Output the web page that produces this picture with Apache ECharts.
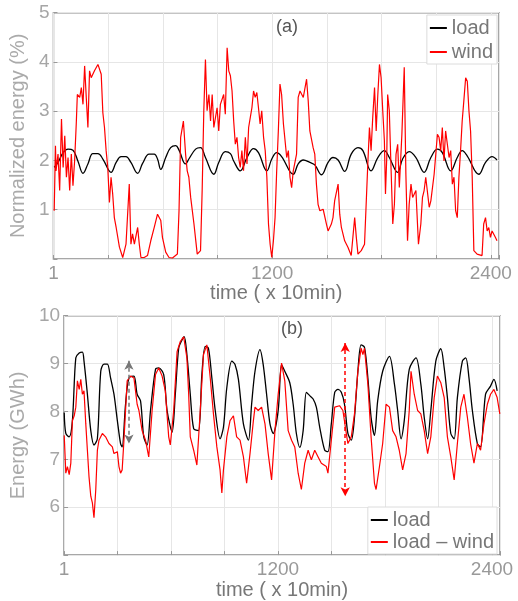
<!DOCTYPE html>
<html>
<head>
<meta charset="utf-8">
<script src="https://cdn.jsdelivr.net/npm/echarts/dist/echarts.min.js"></script>
<style>html,body{margin:0;padding:0;background:#fff;}#c{width:518px;height:601px;}</style>
</head>
<body>
<div id="c"></div>
<script>
// ---- data: [time step, value] ----
const xTickLabels = {0: '1', 1200: '1200', 2400: '2400'};
const loadA = [[4,1.86],[25,1.96],[53,2.16],[80,2.23],[107,2.21],[134,1.99],[162,1.74],[189,1.93],[216,2.14],[244,2.14],
[271,2.03],[316,1.76],[344,1.96],[371,2.08],[398,2.08],[425,1.96],[462,1.74],[489,1.94],[525,2.13],[553,2.13],
[571,2.03],[589,1.82],[616,2.06],[643,2.26],[671,2.30],[689,2.21],[725,1.93],[743,2.03],[780,2.23],[807,2.26],
[834,2.06],[880,1.72],[907,1.96],[943,2.18],[971,2.14],[989,1.99],[1025,1.79],[1062,2.06],[1098,2.24],[1125,2.16],
[1171,1.79],[1198,2.03],[1225,2.16],[1252,2.08],[1316,1.72],[1343,1.93],[1371,2.01],[1407,1.96],[1434,1.91],[1471,1.71],
[1507,1.96],[1534,2.06],[1562,2.01],[1598,1.78],[1634,2.13],[1671,2.26],[1698,2.20],[1743,1.79],[1780,2.06],[1816,2.20],
[1843,2.06],[1889,1.76],[1916,2.03],[1952,2.18],[1989,2.06],[2034,1.76],[2071,2.06],[2107,2.23],[2134,2.16],[2180,1.79],
[2216,2.06],[2243,2.20],[2271,2.09],[2334,1.72],[2371,1.96],[2407,2.08],[2434,2.01]];
const windA = [[4,0.98],[11,2.30],[14,1.79],[25,2.13],[34,1.39],[44,2.84],[53,1.86],[62,2.50],[71,1.66],[80,2.06],
[89,1.39],[98,2.13],[107,1.49],[116,1.99],[125,2.74],[131,3.34],[144,3.28],[153,3.48],[162,3.14],[171,3.92],
[180,3.28],[189,2.67],[198,3.82],[207,3.68],[225,3.82],[244,3.95],[253,3.99],[262,3.75],[271,2.97],[280,2.67],
[289,2.20],[298,1.86],[307,1.15],[316,1.66],[325,1.32],[334,0.84],[344,0.64],[362,0.24],[380,0.03],[398,0.30],
[416,1.52],[425,0.30],[434,0.51],[444,0.30],[462,0.64],[471,0.30],[480,0.03],[498,0.03],[516,0.07],[534,0.37],
[553,0.64],[571,0.91],[589,0.78],[598,0.44],[616,0.14],[634,0.03],[653,0.02],[680,0.10],[689,0.98],[698,2.47],
[713,2.80],[725,2.13],[734,1.79],[743,1.66],[753,1.25],[771,0.71],[789,0.10],[807,0.17],[816,1.39],[825,3.01],
[834,4.05],[843,3.01],[853,3.34],[862,2.80],[871,3.34],[880,2.67],[898,3.07],[907,2.60],[916,3.14],[934,3.34],
[943,2.94],[953,4.29],[962,3.82],[971,3.72],[980,3.41],[989,2.80],[998,2.33],[1007,2.47],[1016,2.06],[1025,1.86],
[1034,2.20],[1043,1.79],[1053,2.47],[1062,1.93],[1071,2.67],[1080,2.87],[1089,3.07],[1098,3.41],[1107,3.28],[1116,3.38],
[1125,3.07],[1134,2.74],[1143,3.01],[1153,2.47],[1162,2.20],[1171,1.66],[1180,0.71],[1189,0.30],[1198,0.03],[1207,0.37],
[1216,0.84],[1225,1.79],[1234,2.60],[1243,3.55],[1252,3.34],[1262,2.74],[1271,2.40],[1280,2.06],[1289,2.20],[1298,1.66],
[1307,1.45],[1316,1.79],[1334,2.13],[1343,3.28],[1353,3.41],[1371,3.28],[1389,3.65],[1398,3.21],[1407,2.60],[1416,2.60],
[1425,2.26],[1434,2.13],[1443,1.52],[1452,1.11],[1462,0.98],[1480,1.01],[1498,0.71],[1507,0.57],[1525,0.71],[1534,0.84],
[1543,1.18],[1552,1.18],[1562,1.52],[1571,0.91],[1580,0.64],[1598,0.37],[1616,0.24],[1634,0.07],[1653,0.84],[1662,0.44],
[1671,0.10],[1689,0.17],[1707,0.30],[1725,1.93],[1734,2.67],[1743,2.20],[1752,2.87],[1762,3.48],[1771,2.60],[1780,3.34],
[1789,3.95],[1798,3.68],[1807,3.01],[1816,2.40],[1822,1.32],[1829,2.06],[1834,3.34],[1843,3.01],[1853,1.79],[1862,0.71],
[1871,1.11],[1880,2.13],[1889,2.33],[1898,1.45],[1912,2.53],[1925,3.89],[1934,1.72],[1943,0.37],[1952,1.11],[1962,1.52],
[1971,1.25],[1989,1.39],[2003,0.30],[2016,0.71],[2025,1.25],[2034,1.39],[2043,1.66],[2062,1.05],[2071,1.18],[2089,1.72],
[2107,2.53],[2116,2.47],[2125,2.20],[2134,2.67],[2143,1.99],[2152,2.60],[2171,2.06],[2180,2.20],[2189,1.52],[2198,1.66],
[2207,0.98],[2216,0.84],[2225,1.66],[2234,2.20],[2243,2.80],[2252,3.21],[2262,3.68],[2271,3.61],[2280,3.01],[2289,2.60],
[2298,1.66],[2307,0.17],[2325,0.10],[2352,0.07],[2361,0.71],[2371,0.84],[2380,0.57],[2389,0.64],[2398,0.44],[2407,0.57],
[2425,0.44],[2434,0.37]];
const loadB = [[1,7.98],[10,7.54],[29,7.47],[47,7.81],[66,9.12],[85,9.22],[103,9.24],[112,9.05],[131,8.36],[150,7.60],
[168,7.30],[187,7.43],[206,8.84],[224,8.99],[243,8.99],[261,8.70],[280,8.36],[299,7.81],[317,7.33],[326,7.26],
[345,8.15],[364,8.70],[392,8.74],[410,8.36],[429,8.22],[447,7.47],[466,7.30],[485,8.02],[513,8.88],[531,8.91],
[559,8.77],[578,8.02],[606,7.57],[624,8.36],[643,9.32],[661,9.49],[674,9.56],[689,9.19],[708,8.36],[727,7.64],
[754,7.60],[773,8.77],[792,9.36],[810,9.32],[829,8.70],[848,8.02],[875,7.43],[894,7.67],[913,8.50],[941,9.05],
[959,8.98],[978,8.67],[1006,7.74],[1034,7.40],[1052,8.15],[1071,8.84],[1099,9.29],[1117,8.98],[1136,8.36],[1155,7.74],
[1173,7.54],[1201,8.02],[1220,8.98],[1238,8.84],[1266,8.60],[1285,8.15],[1303,7.54],[1322,7.25],[1341,7.60],[1359,8.40],
[1378,8.33],[1397,8.26],[1415,8.09],[1434,7.67],[1462,7.19],[1480,7.16],[1499,7.74],[1518,8.40],[1536,8.46],[1555,8.40],
[1573,8.15],[1592,7.54],[1611,7.40],[1629,7.88],[1648,8.84],[1666,9.39],[1685,9.34],[1704,8.70],[1722,7.88],[1741,7.50],
[1759,8.22],[1787,8.84],[1825,9.15],[1853,8.57],[1871,8.02],[1890,7.43],[1908,7.81],[1936,8.88],[1974,9.12],[2001,8.57],
[2020,7.88],[2039,7.43],[2057,8.02],[2085,9.05],[2113,9.31],[2132,8.91],[2150,8.29],[2169,7.54],[2188,7.43],[2206,8.29],
[2234,9.05],[2253,9.12],[2271,8.70],[2290,8.02],[2318,7.33],[2336,7.26],[2364,8.36],[2392,8.53],[2411,8.67],[2429,8.43]];
const netB = [[1,7.50],[10,6.71],[19,6.85],[29,6.68],[38,6.92],[47,7.81],[57,7.91],[66,8.09],[75,8.64],[85,8.46],
[94,8.67],[103,8.36],[112,8.43],[122,7.74],[131,7.19],[140,6.64],[150,6.23],[159,6.09],[168,5.78],[178,6.37],
[187,7.19],[196,7.40],[215,7.54],[233,7.47],[252,7.33],[271,7.26],[280,7.12],[299,7.16],[308,6.85],[317,6.71],
[326,6.78],[336,7.40],[354,8.64],[373,8.74],[392,8.70],[410,8.15],[420,8.02],[438,7.60],[457,7.40],[475,7.05],
[494,8.02],[513,8.77],[531,8.91],[550,8.74],[568,8.43],[587,7.47],[596,7.30],[615,8.02],[634,9.25],[652,9.46],
[671,9.56],[689,9.12],[699,8.36],[708,7.47],[727,7.19],[745,6.88],[764,8.02],[782,9.19],[801,9.39],[820,8.70],
[838,7.95],[857,7.26],[875,6.78],[885,6.30],[894,6.78],[913,7.47],[931,7.81],[950,7.91],[968,7.47],[987,7.40],
[1006,7.05],[1024,6.50],[1043,7.12],[1062,7.81],[1071,8.09],[1089,8.02],[1108,8.09],[1127,7.74],[1145,7.12],[1164,6.57],
[1183,7.60],[1201,8.36],[1220,9.01],[1238,8.64],[1257,7.60],[1276,7.40],[1294,7.26],[1313,6.71],[1331,6.37],[1350,6.92],
[1369,7.19],[1387,6.99],[1406,7.19],[1425,7.05],[1443,6.92],[1471,6.85],[1480,6.71],[1499,7.40],[1518,8.09],[1545,8.12],
[1564,8.02],[1583,7.54],[1592,7.33],[1611,7.47],[1629,7.95],[1648,8.84],[1666,9.32],[1676,9.19],[1685,9.32],[1704,8.57],
[1722,7.47],[1741,6.50],[1750,6.37],[1769,6.85],[1787,7.33],[1806,8.15],[1825,8.09],[1843,7.60],[1862,7.47],[1880,7.19],
[1899,6.78],[1918,7.12],[1936,8.02],[1946,8.84],[1964,8.36],[1983,8.02],[2001,7.95],[2020,7.60],[2039,7.12],[2057,7.47],
[2076,8.29],[2094,8.74],[2113,8.60],[2132,8.29],[2150,7.47],[2169,7.05],[2188,6.57],[2206,7.33],[2225,8.09],[2243,8.36],
[2262,7.88],[2280,7.33],[2299,6.92],[2318,7.33],[2336,7.19],[2355,7.74],[2374,8.15],[2392,8.36],[2411,8.46],[2429,8.29],[2444,7.95]];
// arrows: [time, top, bottom]
const grayArrow = [364, 9.06, 7.33];
const redArrow = [1577, 9.43, 6.23];

// ---- chart ----
const FONT = 'Liberation Sans';
const chart = echarts.init(document.getElementById('c'), null, {renderer: 'canvas'});
function xAxisCfg(gridIndex, gap) {
  return {
    type: 'value', gridIndex, min: 0, max: 2445, interval: 300,
    name: 'time ( x 10min)', nameLocation: 'middle', nameGap: gap,
    nameTextStyle: {color: '#777', fontSize: 20, fontFamily: FONT},
    axisLine: {show: false},
    axisTick: {show: true, inside: true, length: 4, lineStyle: {color: '#999'}},
    axisLabel: {color: '#999', fontSize: 19, fontFamily: FONT, margin: 5,
      showMaxLabel: true, showMinLabel: true,
      formatter: v => (xTickLabels[v] !== undefined ? xTickLabels[v] : '')},
    splitLine: {show: true, lineStyle: {color: '#e6e6e6', width: 1}}
  };
}
function yAxisCfg(gridIndex, min, max, name, gap) {
  return {
    type: 'value', gridIndex, min, max, interval: 1,
    name, nameLocation: 'middle', nameGap: gap,
    nameTextStyle: {color: '#aaa', fontSize: 20, fontFamily: FONT},
    axisLine: {show: false},
    axisTick: {show: true, inside: true, length: 4, lineStyle: {color: '#999'}},
    axisLabel: {color: '#a6a6a6', fontSize: 19, fontFamily: FONT, margin: 4,
      formatter: v => (v === min ? '' : String(v))},
    splitLine: {show: true, lineStyle: {color: '#e6e6e6', width: 1}}
  };
}
function arrowLine(a, color) {
  return {
    silent: true, symbol: ['arrow', 'arrow'], symbolSize: [7, 9],
    label: {show: false},
    lineStyle: {color, type: [4, 3], width: 1.5},
    data: [[{coord: [a[0], a[1]]}, {coord: [a[0], a[2]]}]]
  };
}
const option = {
  animation: false,
  backgroundColor: '#fff',
  textStyle: {fontFamily: FONT},
  grid: [
    {left: 52, top: 12.7, width: 447, height: 246.3, show: true, borderColor: '#8a8a8a', borderWidth: 1.5, backgroundColor: 'transparent'},
    {left: 61.7, top: 315.7, width: 438.3, height: 242, show: true, borderColor: '#8a8a8a', borderWidth: 1.5, backgroundColor: 'transparent'}
  ],
  xAxis: [xAxisCfg(0, 22), xAxisCfg(1, 19)],
  yAxis: [yAxisCfg(0, 0, 5, 'Normalized energy (%)', 17), yAxisCfg(1, 5, 10, 'Energy (GWh)', 27)],
  legend: [
    {data: ['load', 'wind'], orient: 'vertical', right: 21, top: 15, itemWidth: 17, itemHeight: 2, itemGap: 4,
     padding: [3, 4, 2, 3], icon: 'rect', backgroundColor: '#fff', borderColor: '#dcdcdc', borderWidth: 1,
     textStyle: {color: '#777', fontSize: 20, fontFamily: FONT}},
    {data: ['load ', 'load – wind'], orient: 'vertical', right: 21, top: 507, itemWidth: 17, itemHeight: 2, itemGap: 2,
     padding: [3, 3, 2, 3], icon: 'rect', backgroundColor: '#fff', borderColor: '#dcdcdc', borderWidth: 1,
     textStyle: {color: '#777', fontSize: 20, fontFamily: FONT}}
  ],
  graphic: [
    {type: 'text', x: 287, y: 26.7, style: {text: '(a)', fill: '#555', font: '18px "Liberation Sans"', textAlign: 'center', textVerticalAlign: 'middle'}},
    {type: 'text', x: 292, y: 328.7, style: {text: '(b)', fill: '#555', font: '18px "Liberation Sans"', textAlign: 'center', textVerticalAlign: 'middle'}}
  ],
  series: [
    {name: 'load', type: 'line', xAxisIndex: 0, yAxisIndex: 0, data: loadA, showSymbol: false, smooth: 0.4,
     lineStyle: {color: '#000', width: 1.3}, itemStyle: {color: '#000'}},
    {name: 'wind', type: 'line', xAxisIndex: 0, yAxisIndex: 0, data: windA, showSymbol: false,
     lineStyle: {color: '#ff0000', width: 1.2}, itemStyle: {color: '#ff0000'}},
    {name: 'load ', type: 'line', xAxisIndex: 1, yAxisIndex: 1, data: loadB, showSymbol: false, smooth: 0.3,
     lineStyle: {color: '#000', width: 1.3}, itemStyle: {color: '#000'},
     markLine: arrowLine(grayArrow, '#777')},
    {name: 'load – wind', type: 'line', xAxisIndex: 1, yAxisIndex: 1, data: netB, showSymbol: false,
     lineStyle: {color: '#ff0000', width: 1.2}, itemStyle: {color: '#ff0000'},
     markLine: arrowLine(redArrow, '#ff0000')}
  ]
};
chart.setOption(option);
</script>
</body>
</html>
